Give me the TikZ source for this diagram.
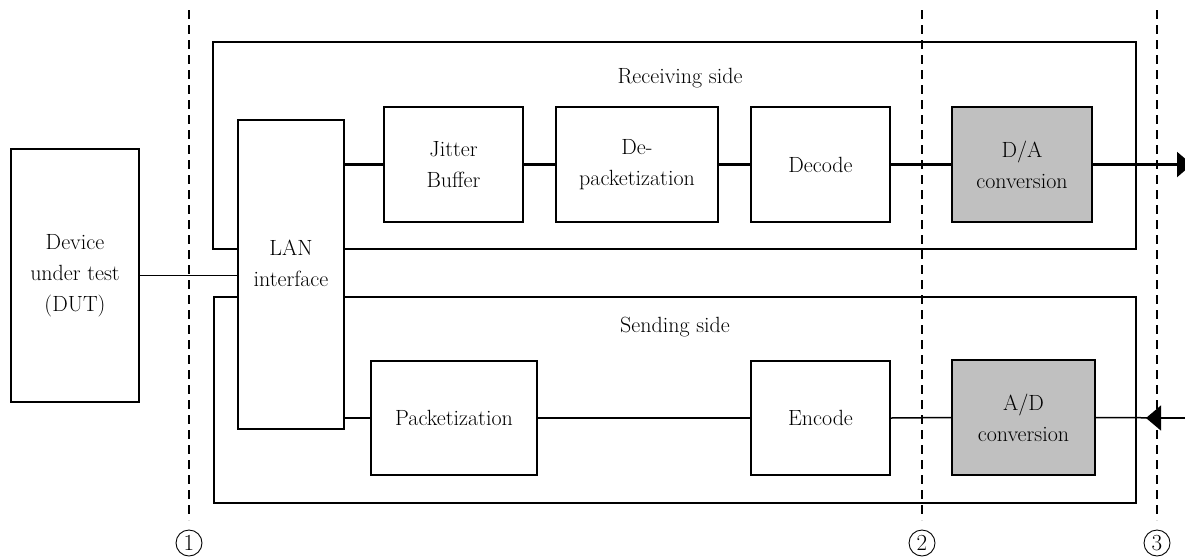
\documentclass[tikz,border=0pt]{standalone}
\usetikzlibrary{arrows.meta}
\begin{document}
\begin{tikzpicture}[x=1pt,y=-1pt,
  every node/.style={font=\fontsize{22}{31}\selectfont, align=center, inner sep=0pt},
  blk/.style={draw, line width=1.6pt, fill=white},
  gblk/.style={draw, line width=1.6pt, fill={rgb,255:red,192;green,192;blue,192}},
  outerbox/.style={draw, line width=1.6pt},
  rline/.style={line width=2.2pt},
  sline/.style={line width=1.5pt},
  dash line/.style={line width=1.5pt, dash pattern=on 9pt off 6pt},
  tip/.style={-{Triangle[length=15pt,width=25pt]}},
  circ/.style={draw, circle, line width=0.9pt, minimum size=26pt, font=\fontsize{23}{23}\selectfont}]
\clip (0,0) rectangle (1185,558);
\fill[white] (0,0) rectangle (1185,558);
% outer boxes
\node[outerbox, minimum width=923pt, minimum height=207pt] (recv) at (674.5,145.5) {};
\node[outerbox, minimum width=922pt, minimum height=206pt] (send) at (675,400) {};
\node (recvt) at (680,78) {Receiving side};
\node (sendt) at (675,327) {Sending side};
% DUT and LAN
\node[blk, minimum width=128pt, minimum height=253pt] (dut) at (75,275.5) {Device\\under test\\(DUT)};
\node[blk, minimum width=106pt, minimum height=309pt] (lan) at (291,274.5) {};
\node (lant) at (291,263) {LAN\\interface};
% receiving chain
\node[blk, minimum width=139pt, minimum height=115pt] (jb) at (453.5,164.5) {Jitter\\Buffer};
\node[blk, minimum width=162pt, minimum height=115pt] (dp) at (637,164.5) {De-\\packetization};
\node[blk, minimum width=139pt, minimum height=115pt] (dec) at (820.5,164.5) {Decode};
\node[gblk, minimum width=140pt, minimum height=115pt] (da) at (1022,164.5) {D/A\\conversion};
% sending chain
\node[blk, minimum width=166pt, minimum height=114pt] (pk) at (454,418) {Packetization};
\node[blk, minimum width=139pt, minimum height=114pt] (enc) at (820.5,418) {Encode};
\node[gblk, minimum width=143pt, minimum height=115pt] (ad) at (1023.5,417.5) {A/D\\conversion};
% free ends
\coordinate (outR) at (1192,164.5);
\coordinate (inR) at (1190,418);
\coordinate (inTip) at (1146,418);
% connectors
\draw[sline] (dut.east) -- (dut.east -| lan.west);
\draw[rline] (jb.west -| lan.east) -- (jb.west);
\draw[rline] (jb.east) -- (dp.west);
\draw[rline] (dp.east) -- (dec.west);
\draw[rline] (dec.east) -- (da.west);
\draw[rline, tip] (da.east) -- (outR);
\draw[sline] (pk.west -| lan.east) -- (pk.west);
\draw[sline] (pk.east) -- (enc.west);
\draw[sline] (enc.east) -- (ad.west);
\draw[sline] (ad.east) -- (inR);
\draw[sline, tip] (inR) -- (inTip);
% reference lines
\coordinate (d1t) at (189,10); \coordinate (d1b) at (189,520);
\coordinate (d2t) at (922,10); \coordinate (d2b) at (922,520);
\coordinate (d3t) at (1157,10); \coordinate (d3b) at (1157,520);
\draw[dash line] (d1t) -- (d1b);
\draw[dash line] (d2t) -- (d2b);
\draw[dash line] (d3t) -- (d3b);
\node[circ] (c1) at (189,543) {1};
\node[circ] (c2) at (922,543) {2};
\node[circ] (c3) at (1157,543) {3};
\end{tikzpicture}
\end{document}
